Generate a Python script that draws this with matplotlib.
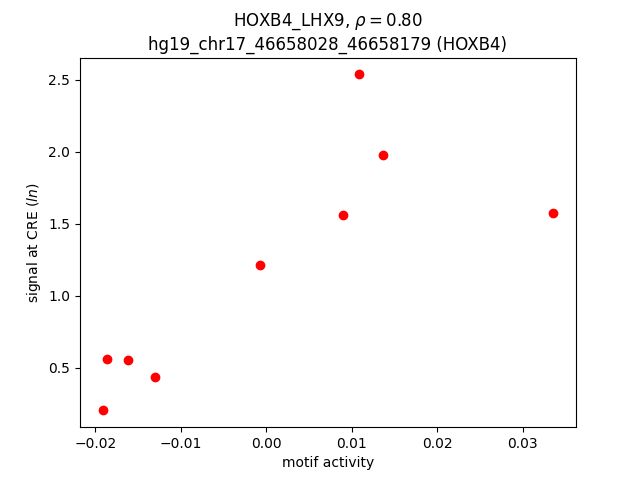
import matplotlib
matplotlib.use("Agg")
import matplotlib.pyplot as plt

# motif activity vs signal at CRE
motif_activity = [-0.01916, -0.01869, -0.01622, -0.01298, -0.00075, 0.00900, 0.01088, 0.01370, 0.03362]
cre_signal = [0.205, 0.562, 0.556, 0.437, 1.215, 1.562, 2.537, 1.977, 1.576]

fig = plt.figure(figsize=(6.4, 4.8), dpi=100)
plt.scatter(motif_activity, cre_signal, c='red')

plt.xlabel('motif activity')
plt.ylabel('signal at CRE ($ln$)')
plt.title('HOXB4_LHX9, $\\rho = 0.80$\nhg19_chr17_46658028_46658179 (HOXB4)')

plt.savefig('out.png')
